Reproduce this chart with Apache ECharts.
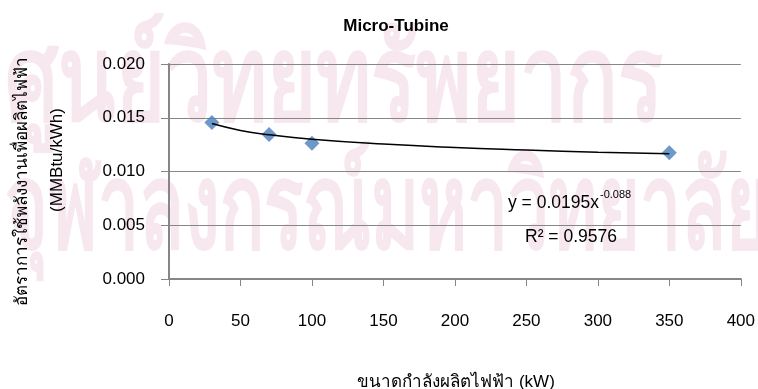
<!DOCTYPE html>
<html>
<head>
<meta charset="utf-8">
<script src="https://cdn.jsdelivr.net/npm/echarts@6/dist/echarts.min.js"></script>
<style>html,body{margin:0;padding:0;background:#fff}#c{width:758px;height:389px}</style>
</head>
<body>
<div id="c"></div>
<script>
// Data
var capacityKW = [30, 70, 100, 350];
var energyRate = [0.01455, 0.01345, 0.01262, 0.01175];
// Power trend line (as drawn in the picture)
var trendX = [30, 50, 70, 100, 150, 200, 250, 300, 350];
var trendY = [0.01446, 0.01382, 0.01342, 0.01300, 0.01255, 0.01223, 0.01200, 0.01180, 0.01165];
var xTicks = {min: 0, max: 400, step: 50};
var yTicks = {min: 0, max: 0.020, step: 0.005};
var titleText = 'Micro-Tubine';
var xTitle = 'ขนาดกำลังผลิตไฟฟ้า (kW)';
var yTitle1 = 'อัตราการใช้พลังงานเพื่อผลิตไฟฟ้า';
var yTitle2 = '(MMBtu/kWh)';
var eqText = 'y = 0.0195x';
var eqExp = '-0.088';
var r2Text = 'R² = 0.9576';
var watermark1 = 'ศูนย์วิทยทรัพยากร';
var watermark2 = 'จุฬาลงกรณ์มหาวิทยาลัย';

var FONT = '"Liberation Sans", Arial, sans-serif';
var WFONT = 'bold 120px "Noto Sans", "DejaVu Sans", sans-serif';
var chart = echarts.init(document.getElementById('c'), null, {renderer: 'canvas'});

var pts = capacityKW.map(function (x, i) { return [x, energyRate[i]]; });
var trend = trendX.map(function (x, i) { return [x, trendY[i]]; });

chart.setOption({
  animation: false,
  backgroundColor: '#ffffff',
  title: {
    text: titleText,
    left: 391, top: 13, textAlign: 'center',
    textStyle: {fontFamily: FONT, fontSize: 17, fontWeight: 'bold', color: '#000'}
  },
  grid: {left: 169, right: 16, top: 64, bottom: 110, containLabel: false},
  xAxis: {
    type: 'value', min: xTicks.min, max: xTicks.max, interval: xTicks.step,
    axisLine: {show: true, lineStyle: {color: '#868686', width: 2}},
    axisTick: {show: true, length: 7, lineStyle: {color: '#868686', width: 1}},
    splitLine: {show: false},
    axisLabel: {margin: 34, fontFamily: FONT, fontSize: 17, color: '#000'}
  },
  yAxis: {
    type: 'value', min: yTicks.min, max: yTicks.max, interval: yTicks.step,
    axisLine: {show: true, lineStyle: {color: '#868686', width: 2}},
    axisTick: {show: true, length: 8, lineStyle: {color: '#868686', width: 1}},
    splitLine: {show: true, lineStyle: {color: '#868686', width: 1}},
    axisLabel: {margin: 24, fontFamily: FONT, fontSize: 17, color: '#000',
      formatter: function (v) { return v.toFixed(3); }}
  },
  graphic: [
    {type: 'text', z: -100, x: 5, y: 26, scaleX: 0.70, silent: true,
     style: {text: watermark1, font: WFONT, fill: '#f7e8ef', textAlign: 'left', textVerticalAlign: 'top'}},
    {type: 'text', z: -100, x: 5, y: 154, scaleX: 0.61, silent: true,
     style: {text: watermark2, font: WFONT, fill: '#f7e8ef', textAlign: 'left', textVerticalAlign: 'top'}},
    {type: 'text', x: 22, y: 181, rotation: Math.PI / 2, silent: true,
     style: {text: yTitle1, font: '17px ' + FONT, fill: '#000', textAlign: 'center', textVerticalAlign: 'middle'}},
    {type: 'text', x: 57, y: 160, rotation: Math.PI / 2, silent: true,
     style: {text: yTitle2, font: '17px ' + FONT, fill: '#000', textAlign: 'center', textVerticalAlign: 'middle'}},
    {type: 'text', x: 456, y: 382, silent: true,
     style: {text: xTitle, font: '17px ' + FONT, fill: '#000', textAlign: 'center', textVerticalAlign: 'middle'}},
    {type: 'text', x: 508, y: 203, silent: true,
     style: {text: eqText, font: '17.5px ' + FONT, fill: '#000', textAlign: 'left', textVerticalAlign: 'middle'}},
    {type: 'text', x: 600, y: 195, silent: true,
     style: {text: eqExp, font: '11px ' + FONT, fill: '#000', textAlign: 'left', textVerticalAlign: 'middle'}},
    {type: 'text', x: 571, y: 237, silent: true,
     style: {text: r2Text, font: '17.5px ' + FONT, fill: '#000', textAlign: 'center', textVerticalAlign: 'middle'}}
  ],
  series: [
    {type: 'scatter', data: pts, symbol: 'diamond', symbolSize: 15, z: 3,
     itemStyle: {color: '#4a7ebb'}},
    {type: 'line', data: trend, smooth: true, showSymbol: false, symbol: 'none', z: 4,
     lineStyle: {color: '#000', width: 1.5}}
  ]
});
</script>
</body>
</html>
